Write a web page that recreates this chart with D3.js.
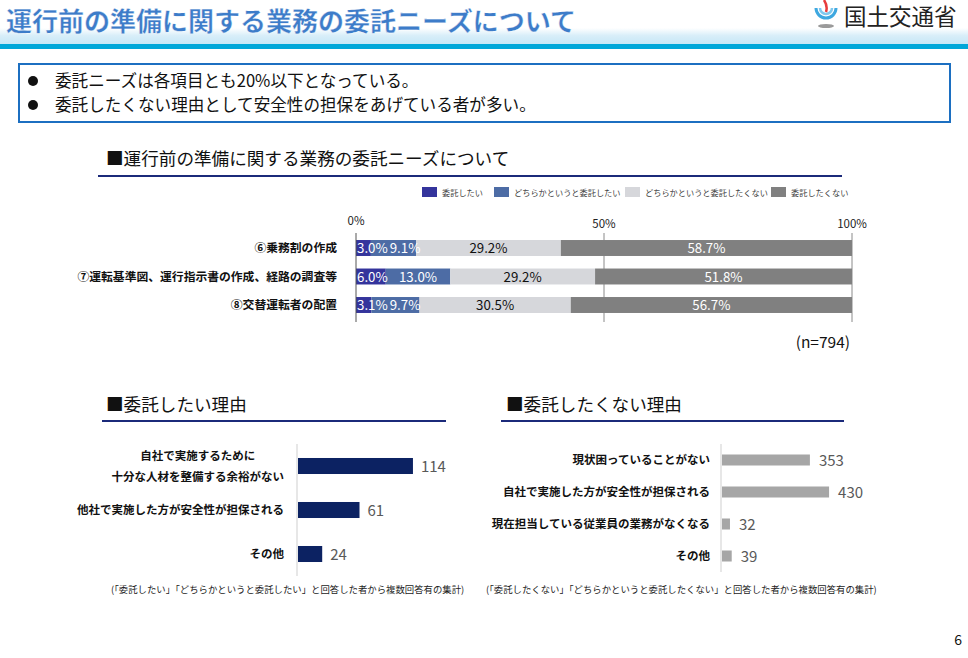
<!DOCTYPE html>
<html><head><meta charset="utf-8">
<script src="https://cdn.jsdelivr.net/npm/d3@7"></script>
<style>
html,body{margin:0;padding:0;background:#fff;}
svg{display:block;font-family:"Noto Sans CJK JP","Noto Sans",sans-serif;}
</style></head>
<body><svg id="c" width="968" height="658"></svg>
<script>
// ---- data ----
const needCategories = ["⑥乗務割の作成", "⑦運転基準図、運行指示書の作成、経路の調査等", "⑧交替運転者の配置"];
const needSeries = ["委託したい", "どちらかというと委託したい", "どちらかというと委託したくない", "委託したくない"];
const needWant = [3.0, 6.0, 3.1];
const needRatherWant = [9.1, 13.0, 9.7];
const needRatherNot = [29.2, 29.2, 30.5];
const needNot = [58.7, 51.8, 56.7];
const pctTicks = [0, 50, 100];

const wantReasons = ["自社で実施するために\n十分な人材を整備する余裕がない", "他社で実施した方が安全性が担保される", "その他"];
const wantCounts = [114, 61, 24];

const notReasons = ["現状困っていることがない", "自社で実施した方が安全性が担保される", "現在担当している従業員の業務がなくなる", "その他"];
const notCounts = [353, 430, 32, 39];

const svg = d3.select("#c");

// ---- header ----
const defs = svg.append("defs");
const g1 = defs.append("linearGradient").attr("id","band").attr("x1",0).attr("x2",0).attr("y1",0).attr("y2",1);
g1.append("stop").attr("offset","0").attr("stop-color","#ffffff");
g1.append("stop").attr("offset","0.45").attr("stop-color","#d8eef9");
g1.append("stop").attr("offset","1").attr("stop-color","#c4e6f6");
svg.append("rect").attr("x",0).attr("y",28).attr("width",968).attr("height",17).attr("fill","url(#band)");
svg.append("rect").attr("x",0).attr("y",44).attr("width",968).attr("height",5).attr("fill","#00a7d9");
svg.append("text").attr("x",6).attr("y",31).attr("font-size",26).attr("font-weight",700)
  .attr("fill","#3d7cc9").attr("stroke","#ffffff").attr("stroke-width",0.3)
  .text("運行前の準備に関する業務の委託ニーズについて");
// logo
const logo = svg.append("g").attr("transform","translate(826,12)");
logo.append("path").attr("d","M-10,-4 A10,10 0 1 0 10,-4").attr("fill","none").attr("stroke","#3ea8e0").attr("stroke-width",3);
logo.append("path").attr("d","M-6,-4 A6,6 0 1 0 6,-4").attr("fill","none").attr("stroke","#7fc8ee").attr("stroke-width",2.5);
logo.append("path").attr("d","M-2,-12 Q2,-6 0,0").attr("fill","none").attr("stroke","#e83c3c").attr("stroke-width",2.5);
logo.append("ellipse").attr("cx",0).attr("cy",14).attr("rx",8).attr("ry",2).attr("fill","#9a9a9a");
svg.append("text").attr("x",844).attr("y",25).attr("font-size",22.5).attr("fill","#222").text("国土交通省");

// ---- summary box ----
svg.append("rect").attr("x",19).attr("y",64).attr("width",931).attr("height",58)
  .attr("fill","#fff").attr("stroke","#1c6fc1").attr("stroke-width",2);
[["委託ニーズは各項目とも20%以下となっている。",87],["委託したくない理由として安全性の担保をあげている者が多い。",111]].forEach(([t,y])=>{
  svg.append("circle").attr("cx",33).attr("cy",y-6).attr("r",5).attr("fill","#111");
  svg.append("text").attr("x",55).attr("y",y).attr("font-size",16.6).attr("fill","#111").text(t);
});

// ---- section titles ----
function sectionTitle(t,x,y,x1,x2,ly){
  svg.append("text").attr("x",x).attr("y",y).attr("font-size",17.6).attr("fill","#111").text(t);
  svg.append("line").attr("x1",x1).attr("x2",x2).attr("y1",ly).attr("y2",ly).attr("stroke","#1b2a7a").attr("stroke-width",2);
}
sectionTitle("■運行前の準備に関する業務の委託ニーズについて",106,165,98,842,176);
sectionTitle("■委託したい理由",106,411,102,446,421);
sectionTitle("■委託したくない理由",506,411,501,844,421);

// ---- stacked chart ----
const colors = ["#34349c","#4d6ca5","#d6d7db","#808080"];
const textCol = ["#fff","#fff","#111","#fff"];
const x = d3.scaleLinear().domain([0,100]).range([356,852]);
const y = d3.scaleBand().domain(needCategories).range([233.75,319.25]).paddingInner(0.44).paddingOuter(0.22);
const stackRows = needCategories.map((c,i)=>({cat:c, vals:[needWant[i],needRatherWant[i],needRatherNot[i],needNot[i]]}));

// legend
const legX = [422,494,625,771];
needSeries.forEach((s,i)=>{
  svg.append("rect").attr("x",legX[i]).attr("y",187).attr("width",15).attr("height",10).attr("fill",colors[i]);
  svg.append("text").attr("x",legX[i]+20).attr("y",195.5).attr("font-size",8.2).attr("fill","#404040").text(s);
});
// ticks + grid
const tickY = [225,228,228];
pctTicks.forEach((t,i)=>{
  svg.append("text").attr("x",x(t)).attr("y",tickY[i]).attr("text-anchor","middle").attr("font-size",11.5).attr("fill","#222").text(t+"%");
  if(t>0) svg.append("line").attr("x1",x(t)).attr("x2",x(t)).attr("y1",233).attr("y2",322).attr("stroke","#8a8a8a").attr("stroke-width",1);
});

const barLayer = svg.append("g");
const labelLayer = svg.append("g");
svg.append("line").attr("x1",x(0)).attr("x2",x(0)).attr("y1",233).attr("y2",322).attr("stroke","#555").attr("stroke-width",1);

stackRows.forEach(row=>{
  let cum=0;
  const gy = y(row.cat), bh = y.bandwidth();
  let prevRight = -1;
  row.vals.forEach((v,j)=>{
    const x0 = x(cum), x1 = x(cum+v);
    barLayer.append("rect").attr("x",x0).attr("y",gy).attr("width",x1-x0).attr("height",bh).attr("fill",colors[j]);
    const t = labelLayer.append("text").attr("y",gy+bh/2+5).attr("font-size",13.3).attr("fill",textCol[j]).text(v.toFixed(1)+"%");
    const w = t.node().getComputedTextLength();
    let left = Math.max((x0+x1)/2 - w/2, x(0)+1, prevRight+2);
    t.attr("x",left);
    prevRight = left + w;
    cum += v;
  });
  svg.append("text").attr("x",337).attr("y",gy+bh/2+4).attr("text-anchor","end").attr("font-size",11.8)
    .attr("font-weight",700).attr("fill","#111").text(row.cat);
});
svg.append("text").attr("x",850).attr("y",348).attr("text-anchor","end").attr("font-size",15.5).attr("fill","#111").text("(n=794)");

// ---- reason charts ----
function reasonChart(cats, vals, opt){
  const xs = d3.scaleLinear().domain(opt.domain).range(opt.range);
  const keys = cats.map((c,i)=>i);
  const ys = d3.scaleBand().domain(keys).range(opt.yRange).paddingInner(opt.pad).paddingOuter(opt.pad/2);
  svg.append("line").attr("x1",xs(0)-1).attr("x2",xs(0)-1).attr("y1",opt.yRange[0]).attr("y2",opt.yRange[1]).attr("stroke","#cfcfcf").attr("stroke-width",1);
  keys.forEach(k=>{
    const yy = ys(k), bh = ys.bandwidth(), cy = yy+bh/2;
    svg.append("rect").attr("x",xs(0)).attr("y",yy).attr("width",xs(vals[k])-xs(0)).attr("height",bh).attr("fill",opt.color);
    svg.append("text").attr("x",xs(vals[k])+opt.gap).attr("y",cy+5.5).attr("font-size",15).attr("fill","#595959").text(vals[k]);
    const lines = cats[k].split("\n");
    if(lines.length>1){
      const t2 = svg.append("text").attr("x",opt.labelX).attr("y",cy+15).attr("text-anchor","end").attr("font-size",11.5).attr("font-weight",700).attr("fill","#111").text(lines[1]);
      const w = t2.node().getComputedTextLength();
      svg.append("text").attr("x",opt.labelX - w/2).attr("y",cy-6).attr("text-anchor","middle").attr("font-size",11.5).attr("font-weight",700).attr("fill","#111").text(lines[0]);
    } else {
      svg.append("text").attr("x",opt.labelX).attr("y",cy+4).attr("text-anchor","end").attr("font-size",11.5).attr("font-weight",700).attr("fill","#111").text(lines[0]);
    }
  });
  svg.append("text").attr("x",opt.noteX).attr("y",593).attr("font-size",9.4).attr("fill","#222").text(opt.note);
}
reasonChart(wantReasons, wantCounts, {domain:[0,120], range:[298,419], yRange:[444,576], pad:0.636, color:"#0c2262",
  gap:8, labelX:284, noteX:111, note:"(「委託したい」「どちらかというと委託したい」と回答した者から複数回答有の集計)"});
reasonChart(notReasons, notCounts, {domain:[0,500], range:[722,846.5], yRange:[444,572], pad:0.656, color:"#a6a6a6",
  gap:9, labelX:710, noteX:486, note:"(「委託したくない」「どちらかというと委託したくない」と回答した者から複数回答有の集計)"});

svg.append("text").attr("x",962).attr("y",645).attr("text-anchor","end").attr("font-size",14).attr("fill","#111").text("6");
</script></body></html>
